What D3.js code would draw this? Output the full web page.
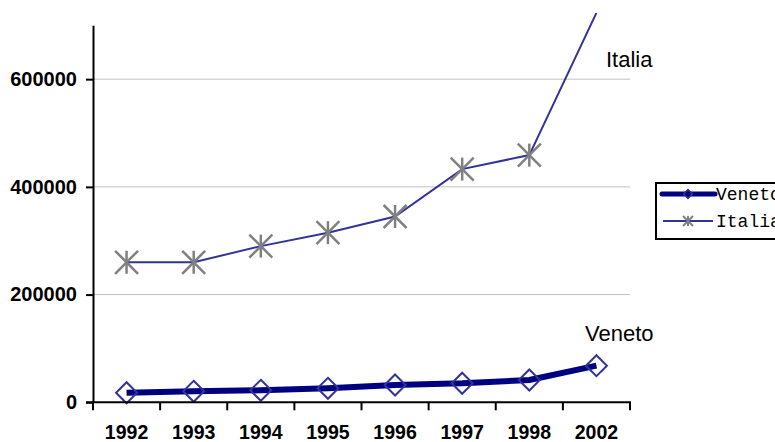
<!DOCTYPE html>
<html><head><meta charset="utf-8">
<script src="https://cdn.jsdelivr.net/npm/d3@7/dist/d3.min.js"></script>
<style>body{margin:0;background:#fff}svg{display:block}</style>
</head><body>
<svg id="c" width="775" height="442"></svg>
<script>
const categories = ["1992","1993","1994","1995","1996","1997","1998","2002"];
const veneto = [17800, 20400, 22300, 26000, 32100, 35300, 41400, 68000];
const italia = [260000, 260000, 290000, 315000, 345000, 433000, 459000, 723000];
const yTicks = [0, 200000, 400000, 600000];
const seriesNames = ["Veneto", "Italia"];

const svg = d3.select("#c");
const x = d3.scaleBand().domain(categories).range([93, 630]).padding(0);
const y = d3.scaleLinear().domain([0, 700000]).range([402.3, 25.3]);
const cx = d => x(d) + x.bandwidth() / 2;
const yMax = y.domain()[1];

// gridlines
svg.append("g").selectAll("line").data(yTicks.filter(v => v > 0)).join("line")
  .attr("x1", 93).attr("x2", 630).attr("y1", d => y(d)).attr("y2", d => y(d))
  .attr("stroke", "#c0c0c0").attr("stroke-width", 1);

// clip
svg.append("clipPath").attr("id", "clip").append("rect")
  .attr("x", 0).attr("y", 13).attr("width", 775).attr("height", 429);

const plot = svg.append("g").attr("clip-path", "url(#clip)");

// Italia line
const line = d3.line().x((d, i) => cx(categories[i])).y(d => y(d));
plot.append("path").datum(italia).attr("d", line)
  .attr("fill", "none").attr("stroke", "#333399").attr("stroke-width", 2);

// asterisk markers (points above the value axis are not marked)
function asterisk(g, s, w) {
  g.append("line").attr("x1", 0).attr("y1", -s).attr("x2", 0).attr("y2", s);
  g.append("line").attr("x1", -s).attr("y1", -s).attr("x2", s).attr("y2", s);
  g.append("line").attr("x1", -s).attr("y1", s).attr("x2", s).attr("y2", -s);
  g.selectAll("line").attr("stroke", "#808080").attr("stroke-width", w);
}
plot.append("g").selectAll("g")
  .data(italia.map((v, i) => ({v, c: categories[i]})).filter(d => d.v <= yMax)).join("g")
  .attr("transform", d => `translate(${cx(d.c)},${y(d.v)})`)
  .each(function () { asterisk(d3.select(this), 11.5, 2.5); });

// Veneto line
plot.append("path").datum(veneto).attr("d", line)
  .attr("fill", "none").attr("stroke", "#000080").attr("stroke-width", 6)
  .attr("stroke-linejoin", "round");
plot.append("g").selectAll("path").data(veneto).join("path")
  .attr("transform", (d, i) => `translate(${cx(categories[i])},${y(d)})`)
  .attr("d", "M0,-10.5L10.5,0L0,10.5L-10.5,0Z")
  .attr("fill", "none").attr("stroke", "#333399").attr("stroke-width", 2);

// y axis
const yAxis = svg.append("g").attr("transform", "translate(93,0)")
  .call(d3.axisLeft(y).tickValues(yTicks).tickSize(7).tickSizeOuter(0).tickPadding(9).tickFormat(d3.format("d")));
yAxis.select(".domain").attr("stroke", "#000").attr("stroke-width", 2);
yAxis.selectAll(".tick line").attr("stroke", "#000").attr("stroke-width", 2);
yAxis.selectAll(".tick text").attr("font-family", "Liberation Sans, Arial, sans-serif")
  .attr("font-size", 20).attr("font-weight", "bold").attr("fill", "#000");

// x axis
const xg = svg.append("g");
xg.append("line").attr("x1", 86).attr("x2", 631).attr("y1", y(0)).attr("y2", y(0))
  .attr("stroke", "#000").attr("stroke-width", 2);
const bounds = categories.map(c => x(c)).concat([x(categories[categories.length - 1]) + x.bandwidth()]);
xg.selectAll("line.t").data(bounds).join("line").attr("class", "t")
  .attr("x1", d => d).attr("x2", d => d).attr("y1", y(0)).attr("y2", y(0) + 8)
  .attr("stroke", "#000").attr("stroke-width", 2);
xg.selectAll("text").data(categories).join("text")
  .attr("x", d => cx(d)).attr("y", 439).attr("text-anchor", "middle")
  .attr("font-family", "Liberation Sans, Arial, sans-serif").attr("font-size", 19.5)
  .attr("font-weight", "bold").text(d => d);

// series labels
svg.append("text").attr("x", 606).attr("y", 67).text("Italia")
  .attr("font-family", "Liberation Sans, Arial, sans-serif").attr("font-size", 22);
svg.append("text").attr("x", 585).attr("y", 341).text("Veneto")
  .attr("font-family", "Liberation Sans, Arial, sans-serif").attr("font-size", 22);

// legend
const lg = svg.append("g");
lg.append("rect").attr("x", 656).attr("y", 183).attr("width", 160).attr("height", 56)
  .attr("fill", "#fff").attr("stroke", "#000").attr("stroke-width", 2);
lg.append("line").attr("x1", 662).attr("x2", 715).attr("y1", 194).attr("y2", 194)
  .attr("stroke", "#000080").attr("stroke-width", 5).attr("stroke-linecap", "round");
lg.append("path").attr("transform", "translate(688,194)").attr("d", "M0,-4.5L4.5,0L0,4.5L-4.5,0Z")
  .attr("fill", "#000080").attr("stroke", "#333399").attr("stroke-width", 1.5);
lg.append("line").attr("x1", 663).attr("x2", 713).attr("y1", 221).attr("y2", 221)
  .attr("stroke", "#333399").attr("stroke-width", 2);
lg.append("g").attr("transform", "translate(688,221)").call(g => asterisk(g, 5, 2));
lg.selectAll("text").data(seriesNames).join("text")
  .attr("x", 716).attr("y", (d, i) => 200 + i * 27).text(d => d)
  .attr("font-family", "Liberation Mono, Courier New, monospace").attr("font-size", 18);
</script>
</body></html>
